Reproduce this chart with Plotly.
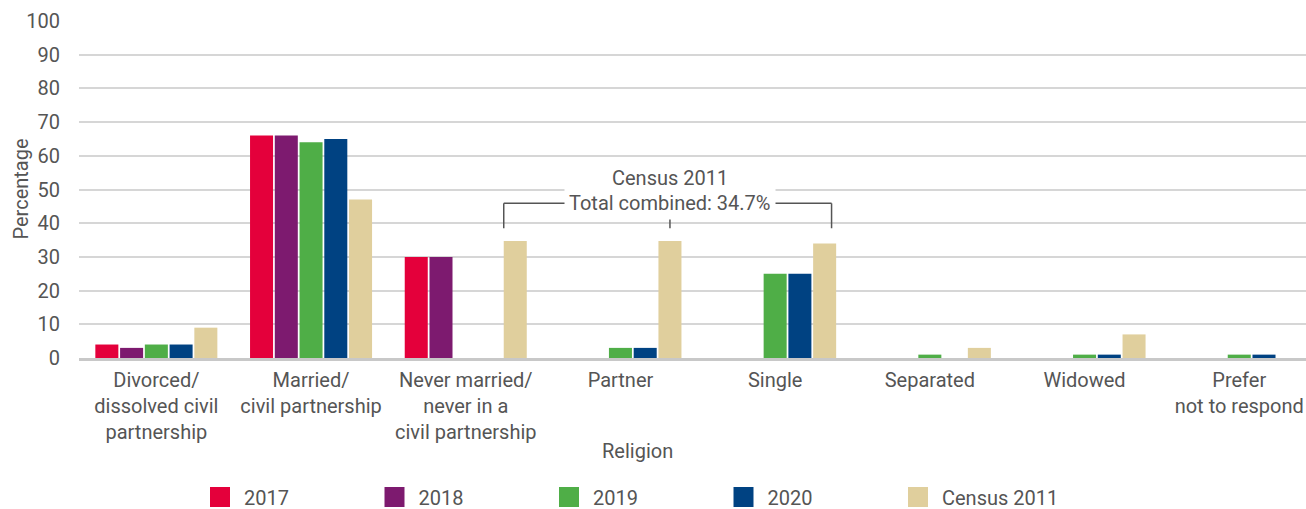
import plotly.graph_objects as go

# Marital status categories (axis tick labels)
categories = [
    "Divorced/<br>dissolved civil<br>partnership",
    "Married/<br>civil partnership",
    "Never married/<br>never in a<br>civil partnership",
    "Partner",
    "Single",
    "Separated",
    "Widowed",
    "Prefer<br>not to respond",
]

series_names = ["2017", "2018", "2019", "2020", "Census 2011"]
values_2017 = [4, 66, 30, 0, 0, 0, 0, 0]
values_2018 = [3, 66, 30, 0, 0, 0, 0, 0]
values_2019 = [4, 64, 0, 3, 25, 1, 1, 1]
values_2020 = [4, 65, 0, 3, 25, 0, 1, 1]
values_census = [9, 47, 34.7, 34.7, 34, 3, 7, 0]

colors = ["#e4003b", "#7d1a6f", "#4fae47", "#004282", "#e0cf9d"]

callout_title = "Census 2011"
callout_text = "Total combined: 34.7%"

TEXT = "#555555"
FONT = "Roboto"
FS = 20

all_values = [values_2017, values_2018, values_2019, values_2020, values_census]

fig = go.Figure()
for name, vals, col in zip(series_names, all_values, colors):
    fig.add_trace(go.Bar(
        x=categories, y=vals, name=name, marker_color=col,
        marker_line_width=0, showlegend=False, hoverinfo="x+y+name",
    ))
    # legend swatch
    fig.add_trace(go.Scatter(
        x=[None], y=[None], mode="markers", name=name,
        marker=dict(symbol="square", size=16, color=col,
                    line=dict(color=col, width=4)),
    ))

# Bracket callout over the Census 2011 bars of the three unpartnered groups
bargap, groupgap, n = 0.2, 0.07, 5
pitch = (1 - bargap) / n
half_w = pitch * (1 - groupgap) / 2
census_off = 2 * pitch
x_left = 2 + census_off - half_w          # left edge of "Never married" census bar
x_mid = 3 + census_off                    # centre of "Partner" census bar
x_right = 4 + census_off + half_w * 0.6   # near right edge of "Single" census bar
y_line, y_dot = 45.9, 38.5

line_style = dict(color="#555555", width=1.5)
fig.add_shape(type="line", xref="x", yref="y", x0=x_left, x1=x_right,
              y0=y_line, y1=y_line, line=line_style)
fig.add_shape(type="line", xref="x", yref="y", x0=x_left, x1=x_left,
              y0=y_line, y1=y_dot, line=line_style)
fig.add_shape(type="line", xref="x", yref="y", x0=x_right, x1=x_right,
              y0=y_line, y1=y_dot, line=line_style)
fig.add_shape(type="line", xref="x", yref="y", x0=x_mid, x1=x_mid,
              y0=y_line, y1=y_dot, line=line_style)
fig.add_trace(go.Scatter(
    x=[x_left, x_mid, x_right], y=[y_dot] * 3, mode="markers",
    marker=dict(size=10, color="#555555"), showlegend=False, hoverinfo="skip",
))
fig.add_annotation(x=x_mid, y=y_line, xref="x", yref="y", text=callout_text,
                   showarrow=False, bgcolor="white", borderpad=4,
                   font=dict(family=FONT, size=FS, color=TEXT))
fig.add_annotation(x=x_mid, y=53.3, xref="x", yref="y", text=callout_title,
                   showarrow=False, font=dict(family=FONT, size=FS, color=TEXT))

# Axis titles
fig.add_annotation(x=(20 - 79) / 1227, y=0.5, xref="paper", yref="paper",
                   xanchor="center", yanchor="middle",
                   text="Percentage", textangle=-90, showarrow=False,
                   font=dict(family=FONT, size=FS, color=TEXT))
fig.add_annotation(x=(637 - 79) / 1227, y=(358 - 451) / 337, xref="paper", yref="paper",
                   xanchor="center", yanchor="middle",
                   text="Religion", showarrow=False,
                   font=dict(family=FONT, size=FS, color=TEXT))

fig.update_layout(
    width=1306, height=509,
    margin=dict(l=79, r=0, t=21, b=151, autoexpand=False),
    barmode="group", bargap=bargap, bargroupgap=groupgap,
    plot_bgcolor="white", paper_bgcolor="white",
    font=dict(family=FONT, size=FS, color=TEXT),
    legend=dict(orientation="h", x=(196 - 79) / 1227, xanchor="left",
                y=(358 - 497) / 337, yanchor="middle",
                itemwidth=38,
                entrywidth=121.5, entrywidthmode="pixels",
                font=dict(family=FONT, size=FS, color=TEXT),
                itemclick=False, itemdoubleclick=False),
    xaxis=dict(range=[-0.5, -0.5 + 1227 / 154.7], showgrid=False,
               showline=True, linecolor="#c8c8c8", linewidth=3,
               ticks="", ticklabelstandoff=2, automargin=False,
               tickfont=dict(family=FONT, size=FS, color=TEXT)),
    yaxis=dict(range=[0, 100], dtick=10, showgrid=True, gridcolor="#d6d6d6",
               gridwidth=1.5, zeroline=False, ticks="", ticklabelstandoff=18,
               automargin=False,
               tickfont=dict(family=FONT, size=FS, color=TEXT)),
)

fig.write_html("out.html")
